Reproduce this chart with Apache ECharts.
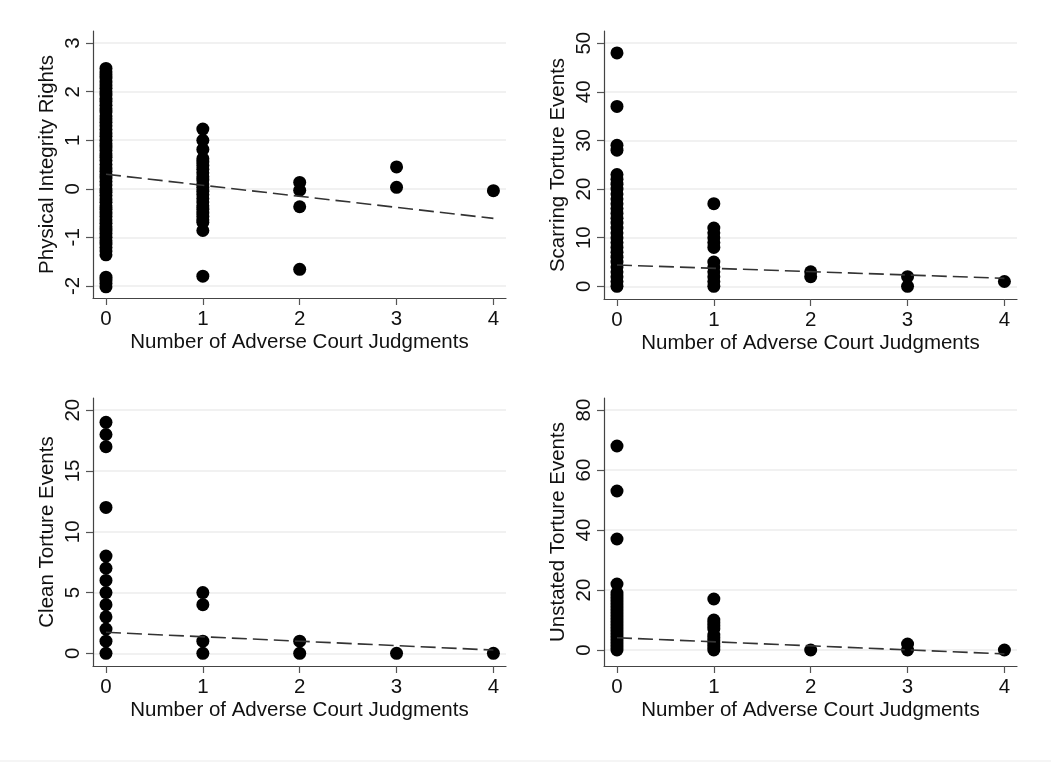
<!DOCTYPE html>
<html>
<head>
<meta charset="utf-8">
<script src="https://cdn.jsdelivr.net/npm/echarts@6/dist/echarts.min.js"></script>
<style>
html,body{margin:0;padding:0;background:#fff;}
#chart{width:1051px;height:762px;}
#strip{position:absolute;left:0;top:760px;width:1051px;height:2px;background:#f5f5f5;}
</style>
</head>
<body>
<div id="chart"></div>
<div id="strip"></div>
<script>
// ---------- data ----------
const xTicks = [0, 1, 2, 3, 4];
const xTitle = 'Number of Adverse Court Judgments';

// Panel 1: Physical Integrity Rights
const pirX0 = [2.48, 2.41, 2.35, 2.28, 2.2, 2.14, 2.07, 2.0, 1.93, 1.86, 1.8, 1.72, 1.65, 1.58, 1.5, 1.44, 1.37, 1.3, 1.22, 1.15, 1.08, 1.0, 0.93, 0.86, 0.79, 0.72, 0.65, 0.58, 0.5, 0.43, 0.36, 0.29, 0.22, 0.15, 0.08, 0.0, -0.07, -0.14, -0.21, -0.28, -0.35, -0.42, -0.5, -0.57, -0.64, -0.71, -0.78, -0.85, -0.92, -1.0, -1.07, -1.14, -1.21, -1.28, -1.36, -1.82, -1.88, -1.95, -2.02];
const pirX1 = [1.23, 1.0, 0.81, 0.62, 0.55, 0.48, 0.4, 0.33, 0.25, 0.18, 0.1, 0.03, -0.05, -0.12, -0.2, -0.27, -0.35, -0.42, -0.5, -0.57, -0.64, -0.69, -0.86, -1.8];
const pirX2 = [0.13, -0.03, -0.37, -1.66];
const pirX3 = [0.45, 0.03];
const pirX4 = [-0.04];
const pirFit = [0.30, -0.61];
const pirTicks = [-2, -1, 0, 1, 2, 3];

// Panel 2: Scarring Torture Events
const scarX0 = [48, 37, 29, 28, 23, 22, 21, 20, 19, 18, 17, 16, 15, 14, 13, 12, 11, 10, 9, 8, 7, 6, 5, 4, 3, 2, 1, 0];
const scarX1 = [17, 12, 11, 10, 9, 8, 5, 4, 3, 2, 1, 0];
const scarX2 = [3, 2];
const scarX3 = [2, 0];
const scarX4 = [1];
const scarFit = [4.4, 1.65];
const scarTicks = [0, 10, 20, 30, 40, 50];

// Panel 3: Clean Torture Events
const cleanX0 = [19, 18, 17, 12, 8, 7, 6, 5, 4, 3, 2, 1, 0];
const cleanX1 = [5, 4, 1, 0];
const cleanX2 = [1, 0];
const cleanX3 = [0];
const cleanX4 = [0];
const cleanFit = [1.73, 0.27];
const cleanTicks = [0, 5, 10, 15, 20];

// Panel 4: Unstated Torture Events
const unsX0 = [68, 53, 37, 22, 19, 18, 17, 16, 15, 14, 13, 12, 11, 10, 9, 8, 7, 6, 5, 4, 3, 2, 1, 0];
const unsX1 = [17, 10, 9, 8, 7, 5, 4, 3, 2, 1, 0];
const unsX2 = [0];
const unsX3 = [2, 0];
const unsX4 = [0];
const unsFit = [4.1, -1.3];
const unsTicks = [0, 20, 40, 60, 80];

// ---------- build ----------
const panels = [
  {name: 'Physical Integrity Rights', cols: [pirX0, pirX1, pirX2, pirX3, pirX4], fit: pirFit, ticks: pirTicks, min: -2.25, max: 3.25},
  {name: 'Scarring Torture Events', cols: [scarX0, scarX1, scarX2, scarX3, scarX4], fit: scarFit, ticks: scarTicks, min: -2.6, max: 52.5},
  {name: 'Clean Torture Events', cols: [cleanX0, cleanX1, cleanX2, cleanX3, cleanX4], fit: cleanFit, ticks: cleanTicks, min: -1.04, max: 21.0},
  {name: 'Unstated Torture Events', cols: [unsX0, unsX1, unsX2, unsX3, unsX4], fit: unsFit, ticks: unsTicks, min: -5.33, max: 84}
];
const gridPos = [
  {left: 93, top: 31, width: 413, height: 267},
  {left: 604, top: 31, width: 413, height: 268},
  {left: 93, top: 398, width: 413, height: 268},
  {left: 604, top: 398, width: 413, height: 268}
];

const FONT = 'Liberation Sans, Arial, sans-serif';
const TXT = '#111';

const grids = [], xAxes = [], yAxes = [], series = [];
panels.forEach((p, i) => {
  grids.push(Object.assign({containLabel: false}, gridPos[i]));
  xAxes.push({
    type: 'value', gridIndex: i, min: -0.134, max: 4.13,
    name: xTitle, nameLocation: 'middle', nameGap: 34,
    nameTextStyle: {fontFamily: FONT, fontSize: 20.5, color: TXT},
    axisLine: {show: true, onZero: false, lineStyle: {color: '#444', width: 1.2}},
    axisTick: {show: true, length: 7, inside: false, customValues: xTicks, lineStyle: {color: '#555', width: 1.2}},
    axisLabel: {customValues: xTicks, margin: 11, fontFamily: FONT, fontSize: 20.5, color: TXT},
    splitLine: {show: false}
  });
  yAxes.push({
    type: 'value', gridIndex: i, min: p.min, max: p.max,
    name: p.name, nameLocation: 'middle', nameGap: 35, nameRotate: 90,
    nameTextStyle: {fontFamily: FONT, fontSize: 20.5, color: TXT},
    axisLine: {show: true, onZero: false, lineStyle: {color: '#444', width: 1.2}},
    axisTick: {show: true, length: 7, inside: false, customValues: p.ticks, lineStyle: {color: '#555', width: 1.2}},
    axisLabel: {customValues: p.ticks, rotate: 90, margin: 9, fontFamily: FONT, fontSize: 20.5, color: TXT},
    splitLine: {show: true, lineStyle: {color: '#ececec', width: 1.5}}
  });
  const pts = [];
  p.cols.forEach((col, xi) => col.forEach(v => pts.push([xTicks[xi], v])));
  series.push({
    type: 'scatter', xAxisIndex: i, yAxisIndex: i, data: pts,
    symbol: 'circle', symbolSize: 13, itemStyle: {color: '#000', opacity: 1},
    silent: true, animation: false
  });
  series.push({
    type: 'line', xAxisIndex: i, yAxisIndex: i,
    data: [[xTicks[0], p.fit[0]], [xTicks[xTicks.length - 1], p.fit[1]]],
    symbol: 'none', lineStyle: {color: '#333', width: 1.6, type: [15, 6]},
    silent: true, animation: false, z: 3
  });
});

const chart = echarts.init(document.getElementById('chart'), null, {renderer: 'canvas'});
chart.setOption({
  backgroundColor: '#fff',
  animation: false,
  grid: grids, xAxis: xAxes, yAxis: yAxes, series: series
});
</script>
</body>
</html>
